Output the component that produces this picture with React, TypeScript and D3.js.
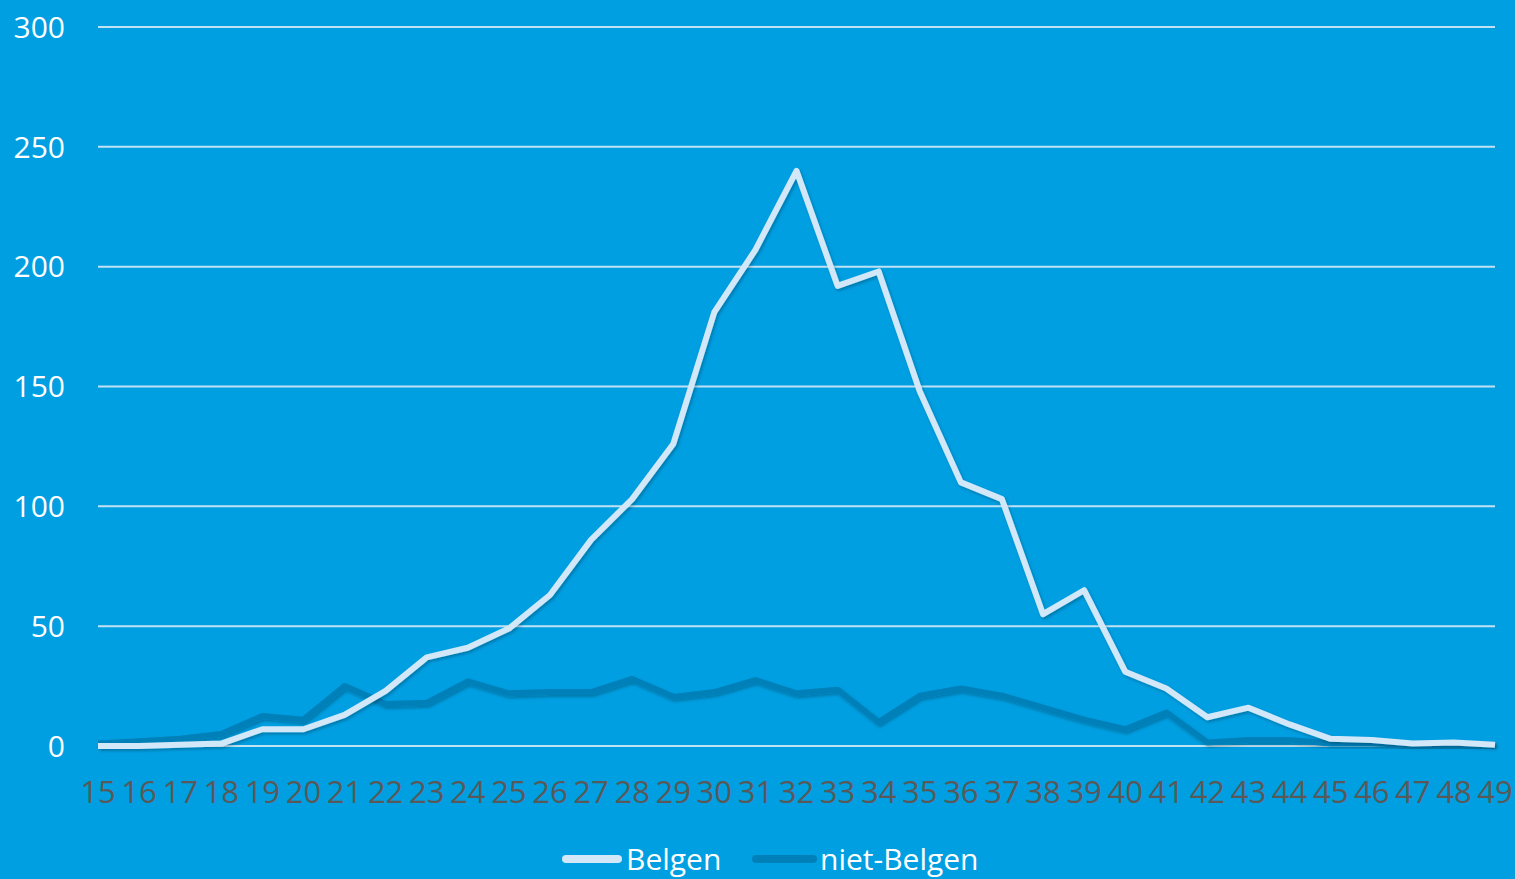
import React from "react";
import * as d3 from "d3";

const ages = [15,16,17,18,19,20,21,22,23,24,25,26,27,28,29,30,31,32,33,34,35,36,37,38,39,40,41,42,43,44,45,46,47,48,49];
const belgen = [0,0,0.5,1,7,7,13,23,37,41,49,63,86,103,126,181,207,240,192,198,148,110,103,55,65,31,24,12,16,9,3,2.5,1,1.5,0.5];
const nietBelgen = [1,2,3,5,12.5,11,25,17.5,18,27,22,22.5,22.5,28,20.5,22.5,27.5,22,23.5,10,21,24,21,16,11,7,14,1.5,2.5,2.5,1,1,0.5,0.5,0.5];
const yTicks = [0,50,100,150,200,250,300];
const seriesNames = ["Belgen","niet-Belgen"];

const W = 1515, H = 879;
const BG = "#009FE2";
const C_BEL = "#D2E8F8";
const C_NIET = "#0080B9";

export default function App() {
  const x = d3.scaleLinear().domain([15, 49]).range([98, 1495]);
  const y = d3.scaleLinear().domain([0, 300]).range([746, 27]);
  const line = d3.line<number>().x((_, i) => x(ages[i])).y(d => y(d));

  return (
    <svg width={W} height={H} style={{ position: "absolute", left: 0, top: 0, display: "block" }}>
      <defs>
        <filter id="sh" x="-5%" y="-5%" width="110%" height="110%">
          <feDropShadow dx="1.5" dy="2" stdDeviation="1.5" floodColor="#000" floodOpacity="0.25" />
        </filter>
      </defs>
      <rect x={0} y={0} width={W} height={H} fill={BG} />
      {yTicks.map(t => (
        <g key={t}>
          <line x1={98} x2={1495} y1={y(t)} y2={y(t)} stroke="#BFE2F4" strokeWidth={2} />
          <text x={65} y={y(t)} dy="0.36em" textAnchor="end" fill="#FFFFFF"
            style={{ fontFamily: "'Open Sans', sans-serif", fontSize: 30 }}>{t}</text>
        </g>
      ))}
      {ages.map(a => (
        <text key={a} x={x(a)} y={803} textAnchor="middle" fill="#595959"
          style={{ fontFamily: "'Open Sans', sans-serif", fontSize: 31 }}>{a}</text>
      ))}
      <path d={line(nietBelgen) || ""} fill="none" stroke={C_NIET} strokeWidth={6} strokeLinejoin="round" filter="url(#sh)" />
      <path d={line(belgen) || ""} fill="none" stroke={C_BEL} strokeWidth={6} strokeLinejoin="round" filter="url(#sh)" />
      <g>
        <line x1={566} x2={618} y1={859} y2={859} stroke={C_BEL} strokeWidth={8} strokeLinecap="round" />
        <text x={626} y={870} fill="#FFFFFF" style={{ fontFamily: "'Open Sans', sans-serif", fontSize: 30 }}>{seriesNames[0]}</text>
        <line x1={756} x2={813} y1={859} y2={859} stroke={C_NIET} strokeWidth={8} strokeLinecap="round" />
        <text x={820} y={870} fill="#FFFFFF" style={{ fontFamily: "'Open Sans', sans-serif", fontSize: 30 }}>{seriesNames[1]}</text>
      </g>
    </svg>
  );
}
